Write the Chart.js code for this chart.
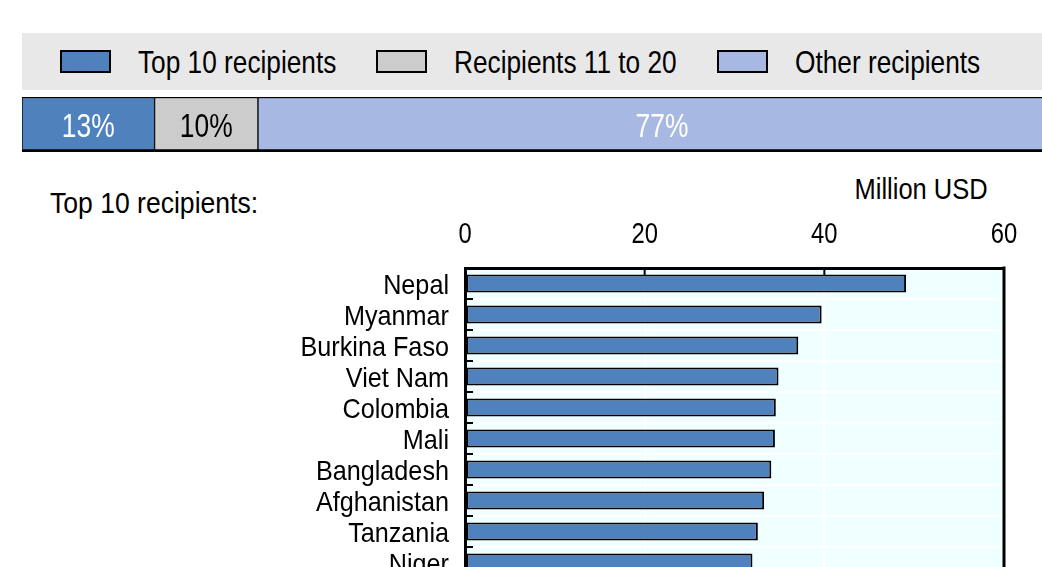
<!DOCTYPE html>
<html>
<head>
<meta charset="utf-8">
<script src="https://cdn.jsdelivr.net/npm/chart.js@4.4.0/dist/chart.umd.min.js"></script>
<style>
body { margin: 0; width: 1042px; height: 567px; overflow: hidden; position: relative; background: #fff;
       font-family: 'Liberation Sans', Arial, sans-serif; color: #000; }
#legend { position: absolute; left: 22px; top: 33px; width: 1020px; height: 57px; background: #e8e8e8;
          display: flex; align-items: center; padding-left: 38px; box-sizing: border-box; font-size: 32px; line-height: 32px; }
.item { display: flex; align-items: center; margin-right: 40px; white-space: nowrap; }
.swatch { width: 51px; height: 23px; border: 2px solid #000; box-sizing: border-box; margin-right: 27px; }
.squeeze { display: inline-block; white-space: nowrap; }
#share-wrap { position: absolute; left: 22px; top: 97px; }
#main-wrap { position: absolute; left: 0; top: 208px; }
.label { position: absolute; font-size: 30px; line-height: 30px; white-space: nowrap; }
</style>
</head>
<body>
<div id="legend"></div>
<div id="share-wrap"><canvas id="shares" width="1044" height="55"></canvas></div>
<div class="label" style="left:50px; top:188px;"><span class="squeeze" data-sx="0.885" style="transform-origin:0 50%">Top 10 recipients:</span></div>
<div class="label" style="right:54px; top:174px; text-align:right;"><span class="squeeze" data-sx="0.85" style="transform-origin:100% 50%">Million USD</span></div>
<div id="main-wrap"><canvas id="top-ten" width="1042" height="370"></canvas></div>

<script>
// share of total going to each group of recipients (%)
const shareLabels = ['Top 10 recipients', 'Recipients 11 to 20', 'Other recipients'];
const shareValues = [12.7, 9.9, 77.4];
const shareColors = ['#4f81bd', '#cccccc', '#a7b8e2'];
const shareTextColors = ['#fff', '#000', '#fff'];

// top 10 recipients, million USD
const countries = ['Nepal', 'Myanmar', 'Burkina Faso', 'Viet Nam', 'Colombia', 'Mali', 'Bangladesh', 'Afghanistan', 'Tanzania', 'Niger'];
const amounts = [49.1, 39.7, 37.1, 34.9, 34.6, 34.5, 34.1, 33.3, 32.6, 32.0];
const xTicks = [0, 20, 40, 60];

const fontName = "'Liberation Sans', Arial, sans-serif";
Chart.defaults.font.family = fontName;
Chart.defaults.color = '#000';

// no narrow font installed, so text gets squeezed sideways
function drawSqueezed(ctx, text, x, y, sx) {
    ctx.save();
    ctx.translate(x, y);
    ctx.scale(sx, 1);
    ctx.fillText(text, 0, 0);
    ctx.restore();
}

// legend band
const legend = document.getElementById('legend');
shareLabels.forEach((name, i) => {
    const item = document.createElement('div');
    item.className = 'item';
    item.innerHTML = '<span class="swatch" style="background:' + shareColors[i] + '"></span>' +
        '<span class="squeeze" data-sx="0.82" style="transform-origin:0 50%">' + name + '</span>';
    legend.appendChild(item);
});

const squeezed = document.getElementsByClassName('squeeze');
for (var i = 0; i < squeezed.length; i++) {
    const sx = parseFloat(squeezed[i].dataset.sx);
    const w = squeezed[i].offsetWidth;
    squeezed[i].style.transform = 'scaleX(' + sx + ')';
    if (squeezed[i].style.transformOrigin.indexOf('100%') === 0) {
        squeezed[i].style.marginLeft = -(w * (1 - sx)) + 'px';
    } else {
        squeezed[i].style.marginRight = -(w * (1 - sx)) + 'px';
    }
}

const shareText = {
    id: 'shareText',
    afterDatasetsDraw(chart) {
        const ctx = chart.ctx;
        ctx.save();
        ctx.font = '33px ' + fontName;
        ctx.textAlign = 'center';
        ctx.textBaseline = 'alphabetic';
        chart.data.datasets.forEach((ds, i) => {
            const bar = chart.getDatasetMeta(i).data[0];
            ctx.fillStyle = shareTextColors[i];
            drawSqueezed(ctx, Math.round(ds.data[0]) + '%', (bar.x + bar.base) / 2, bar.y + 12, 0.8);
        });
        ctx.restore();
    }
};

new Chart(document.getElementById('shares'), {
    type: 'bar',
    data: {
        labels: ['Share'],
        datasets: shareLabels.map((name, i) => ({
            label: name,
            data: [shareValues[i]],
            backgroundColor: shareColors[i],
            borderColor: '#000',
            borderWidth: { top: 1.5, bottom: 3, left: 1, right: 1 },
            borderSkipped: false,
            barPercentage: 1,
            categoryPercentage: 1
        }))
    },
    options: {
        indexAxis: 'y',
        responsive: false,
        animation: false,
        layout: { padding: 0 },
        plugins: { legend: { display: false }, tooltip: { enabled: false } },
        scales: {
            x: { stacked: true, display: false, min: 0, max: 100 },
            y: { stacked: true, display: false }
        }
    },
    plugins: [shareText]
});

// background, right border, inside ticks and the (narrow) tick labels
const plotFrame = {
    id: 'plotFrame',
    beforeDraw(chart) {
        const a = chart.chartArea;
        const ctx = chart.ctx;
        ctx.save();
        ctx.fillStyle = '#f0ffff';
        ctx.fillRect(a.left, a.top, a.right - a.left, a.bottom - a.top);
        ctx.restore();
    },
    afterDraw(chart) {
        const a = chart.chartArea;
        const ctx = chart.ctx;
        const x = chart.scales.x, y = chart.scales.y;
        ctx.save();
        ctx.strokeStyle = '#000';
        ctx.lineWidth = 3;
        ctx.beginPath();
        ctx.moveTo(a.right, a.top - 1.5);
        ctx.lineTo(a.right, a.bottom);
        ctx.stroke();
        ctx.lineWidth = 2;
        for (let i = 1; i < x.ticks.length - 1; i++) {
            const px = x.getPixelForTick(i);
            ctx.beginPath();
            ctx.moveTo(px, a.top);
            ctx.lineTo(px, a.top + 7);
            ctx.stroke();
        }
        for (let i = 0; i < y.ticks.length - 1; i++) {
            const py = (y.getPixelForTick(i) + y.getPixelForTick(i + 1)) / 2;
            ctx.beginPath();
            ctx.moveTo(a.left, py);
            ctx.lineTo(a.left + 8, py);
            ctx.stroke();
        }

        ctx.fillStyle = '#000';
        ctx.textBaseline = 'alphabetic';
        ctx.font = '29px ' + fontName;
        ctx.textAlign = 'center';
        x.ticks.forEach((t, i) => {
            drawSqueezed(ctx, String(t.value), x.getPixelForTick(i), a.top - 25, 0.82);
        });
        ctx.font = '28px ' + fontName;
        ctx.textAlign = 'right';
        y.ticks.forEach((t, i) => {
            drawSqueezed(ctx, y.getLabelForValue(t.value), a.left - 16, y.getPixelForTick(i) + 10, 0.9);
        });
        ctx.restore();
    }
};

new Chart(document.getElementById('top-ten'), {
    type: 'bar',
    data: {
        labels: countries,
        datasets: [{
            data: amounts,
            backgroundColor: '#4f81bd',
            borderColor: '#000',
            borderWidth: 2,
            borderSkipped: false,
            barPercentage: 0.58,
            categoryPercentage: 1
        }]
    },
    options: {
        indexAxis: 'y',
        responsive: false,
        animation: false,
        layout: { padding: { left: 0, right: 38, top: 0, bottom: 0 } },
        plugins: { legend: { display: false }, tooltip: { enabled: false } },
        scales: {
            x: {
                position: 'top',
                min: 0,
                max: 60,
                afterBuildTicks: function(s) { s.ticks = xTicks.map(v => ({ value: v })) },
                afterFit: function(s) { s.height = 60; s.paddingLeft = 0; s.paddingRight = 0 },
                ticks: { display: false },
                grid: {
                    color: c => (c.tick && (c.tick.value === 0 || c.tick.value === 60)) ? 'rgba(0,0,0,0)' : '#fff',
                    lineWidth: 2,
                    drawTicks: false
                },
                border: { color: '#000', width: 3 }
            },
            y: {
                afterFit: function(s) { s.width = 465; s.paddingTop = 0; s.paddingBottom = 0 },
                ticks: { display: false, autoSkip: false },
                grid: {
                    color: c => c.index === 0 ? 'rgba(0,0,0,0)' : '#fff',
                    lineWidth: 2,
                    drawTicks: false,
                    offset: true
                },
                border: { color: '#000', width: 3 }
            }
        }
    },
    plugins: [plotFrame]
});
</script>
</body>
</html>
